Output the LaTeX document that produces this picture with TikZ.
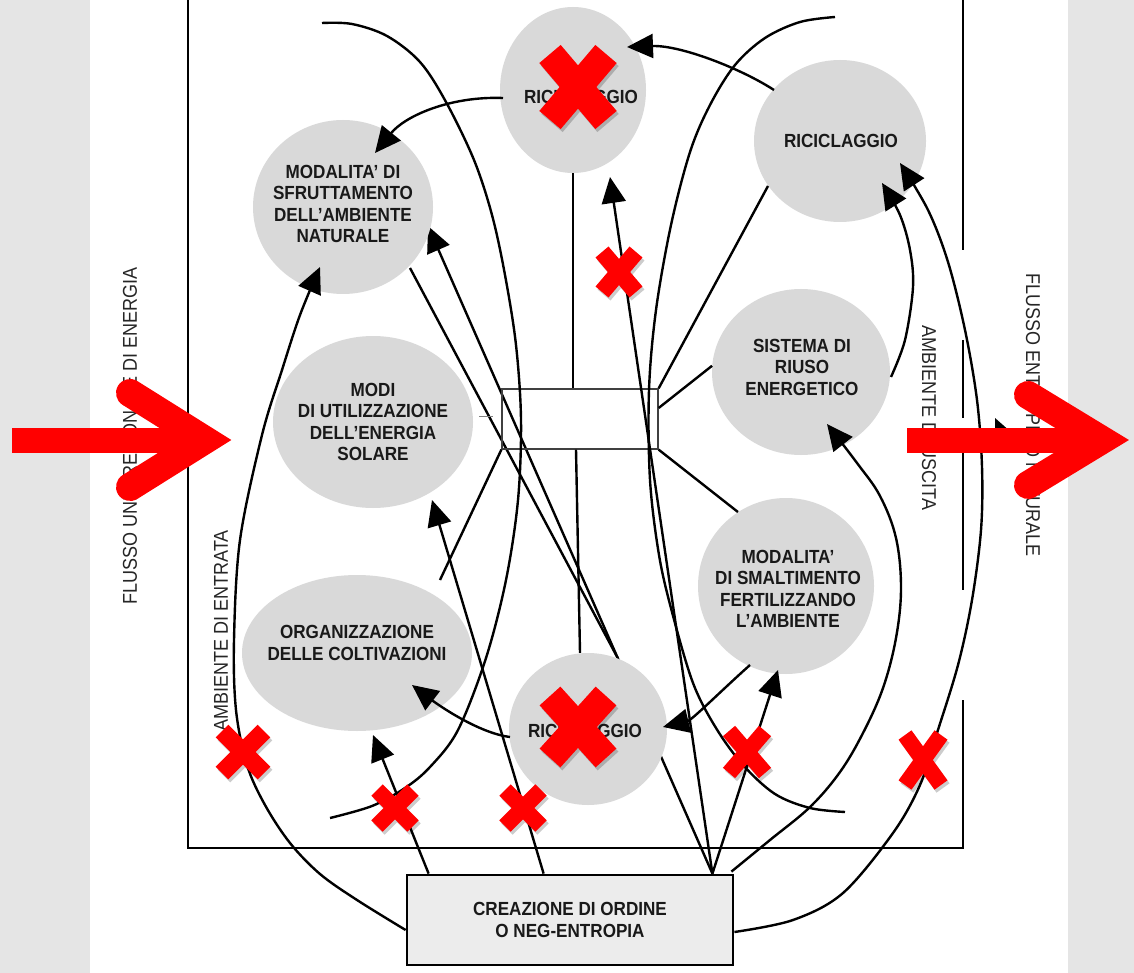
\documentclass[tikz,border=0pt]{standalone}
\usepackage{fontspec}
\setmainfont{Liberation Sans}[FakeStretch=0.9]
\usetikzlibrary{shapes.geometric,arrows.meta,calc}
\pgfdeclarelayer{bg}
\pgfdeclarelayer{lines}
\pgfdeclarelayer{front}
\pgfsetlayers{bg,lines,main,front}
\tikzset{
  blob/.style={ellipse, fill=gray!30, draw=none, inner sep=0pt},
  lbl/.style={font=\fontsize{19}{21.5}\selectfont\bfseries, align=center, text=black!90, inner sep=0pt},
  side/.style={font=\fontsize{20}{22}\selectfont, text=black!85, inner sep=0pt},
  conn/.style={line width=2.4pt, draw=black},
  arr/.style={conn, -{Triangle[length=26pt,width=24pt]}},
  framel/.style={line width=2.8pt, draw=black},
  redline/.style={draw=red, line width=25pt},
  redhead/.style={draw=red, line width=28pt, line cap=round},
  pics/redx/.style args={#1/#2/#3}{code={
    \draw[black, opacity=0.2, line width=#3] (-#1+2,-#2+3) -- (#1+2,#2+3) (-#1+2,#2+3) -- (#1+2,-#2+3);
    \draw[red, line width=#3] (-#1,-#2) -- (#1,#2) (-#1,#2) -- (#1,-#2);
  }}
}
\begin{document}
\begin{tikzpicture}[x=1pt,y=-1pt]
\useasboundingbox (0,0) rectangle (1134,973);
\begin{pgfonlayer}{bg}
  \fill[gray!20] (0,0) rectangle (1134,973);
  \fill[white] (90,0) rectangle (1068,973);
\end{pgfonlayer}

% ---------- nodes ----------
\node[blob, minimum width=180pt, minimum height=174pt] (N1) at (343,207) {};
\node[blob, minimum width=200pt, minimum height=172pt] (N2) at (373,422) {};
\node[blob, minimum width=230pt, minimum height=156pt] (N3) at (357,653) {};
\node[blob, minimum width=146pt, minimum height=166pt] (N4) at (573,90) {};
\node[blob, minimum width=172pt, minimum height=162pt] (N5) at (840,141) {};
\node[blob, minimum width=178pt, minimum height=166pt] (N6) at (801,372) {};
\node[blob, minimum width=176pt, minimum height=176pt] (N7) at (786,586) {};
\node[blob, minimum width=158pt, minimum height=152pt] (N8) at (588,729) {};

\node[lbl] (T1) at (343,204) {MODALITA' DI\\SFRUTTAMENTO\\DELL'AMBIENTE\\NATURALE};
\node[lbl] (T2) at (373,422) {MODI\\DI UTILIZZAZIONE\\DELL'ENERGIA\\SOLARE};
\node[lbl] (T3) at (357,643) {ORGANIZZAZIONE\\DELLE COLTIVAZIONI};
\node[lbl] (T4) at (581,97) {RICICLAGGIO};
\node[lbl] (T5) at (841,141) {RICICLAGGIO};
\node[lbl] (T6) at (802,367) {SISTEMA DI\\RIUSO\\ENERGETICO};
\node[lbl] (T7) at (788,589) {MODALITA'\\DI SMALTIMENTO\\FERTILIZZANDO\\L'AMBIENTE};
\node[lbl] (T8) at (585,731) {RICICLAGGIO};

\node[draw=black, line width=2.8pt, fill=gray!15, minimum width=326pt, minimum height=90pt, inner sep=0pt, lbl] (box) at (570,920) {CREAZIONE DI ORDINE\\O NEG-ENTROPIA};
\node[draw=black!75, line width=1.3pt, minimum width=156pt, minimum height=60pt, inner sep=0pt] (rect) at (580,419) {};

\node[side, rotate=90] (S1) at (130,436) {FLUSSO UNIDIREZIONALE DI ENERGIA};
\node[side, rotate=90] (S2) at (221,631) {AMBIENTE DI ENTRATA};
\node[side, rotate=-90] (S3) at (929,418) {AMBIENTE DI USCITA};
\node[side, rotate=-90] (S4) at (1033,415) {FLUSSO ENTROPICO NATURALE};

% ---------- coordinates ----------
\coordinate (c1a) at (322,23);
\coordinate (c1b) at (330,818);
\coordinate (c2a) at (835,17);
\coordinate (c2b) at (845,812);
\coordinate (bxL) at ($(box.west)+(0,10)$);
\coordinate (bxA) at ($(box.north west)+(23,0)$);
\coordinate (bxB) at ($(box.north west)+(138,0)$);
\coordinate (bxC) at ($(box.north east)+(-22,0)$);
\coordinate (bxD) at ($(box.north east)+(-3,-2)$);
\coordinate (bxR) at ($(box.east)+(0,12)$);

% ---------- frame and hidden lines ----------
\begin{pgfonlayer}{lines}
  \draw[framel] (188,0) -- (188,848) -- (963,848) -- (963,700);
  \draw[framel] (963,0) -- (963,250) (963,340) -- (963,418) (963,453) -- (963,590);
  \fill[black] (995,418) -- (1020,440) -- (995,440) -- cycle;
  \draw[conn] ($(N1.center)+(67,61)$) -- (N8.67);
  \draw[arr] (bxC) -- ($(N1.center)+(85,19)$);
\end{pgfonlayer}

% ---------- connectors ----------
\draw[conn] plot[smooth, tension=0.55] coordinates {(c1a) (352,24) (387,36) (420,62) (446,102) (474,160) (492,215) (505,275) (516,345) (521,420) (518,500) (506,580) (486,658) (458,730) (430,767) (405,788) (372,806) (c1b)};
\draw[conn] plot[smooth, tension=0.55] coordinates {(c2a) (800,22) (765,38) (735,65) (710,105) (690,152) (671,225) (656,310) (649,390) (650,480) (659,555) (672,612) (693,683) (716,728) (743,765) (775,794) (810,808) (c2b)};

\draw[arr] plot[smooth, tension=0.55] coordinates {(bxL) (357,900) (320,874) (290,843) (265,805) (247,765) (236,710) (234,640) (240,540) (262,435) (282,370) (300,315) ($(N1.center)+(-23,60)$)};
\draw[arr] (bxA) -- ($(N3.center)+(16,82)$);
\draw[arr] (bxB) -- ($(N2.center)+(59,78)$);
\draw[arr] (bxC) -- ($(N4.center)+(37,87)$);
\draw[arr] (bxC) -- ($(N7.center)+(-8,84)$);
\draw[arr] plot[smooth, tension=0.6] coordinates {(bxD) (770,840) (810,807) (840,772) (863,733) (883,688) (896,638) (901,588) (896,538) (880,496) (857,463) ($(N6.center)+(26,52)$)};
\draw[arr] plot[smooth, tension=0.55] coordinates {(bxR) (793,920) (843,893) (893,833) (920,785) (937,733) (958,665) (972,600) (981,530) (982,467) (977,400) (965,330) (948,262) (928,210) ($(N5.center)+(60,22)$)};
\draw[arr] plot[smooth, tension=0.55] coordinates {($(N6.center)+(90,5)$) (905,340) (913,287) (910,250) (900,215) ($(N5.center)+(42,42)$)};
\draw[arr] ($(N5.center)+(-66,-51)$) .. controls (740,68) and (680,45) .. ($(N4.center)+(54,-43)$);
\draw[arr] ($(N4.center)+(-70,8)$) .. controls (450,96) and (405,116) .. ($(N1.center)+(32,-54)$);
\draw[arr] ($(N7.center)+(-36,79)$) .. controls (723,689) and (692,720) .. ($(N8.center)+(75,-2)$);
\draw[arr] ($(N8.center)+(-78,8)$) .. controls (478,733) and (437,704) .. ($(N3.center)+(55,32)$);

% lines from the central rectangle
\draw[conn] (N4.south) -- (N4.south |- rect.north);
\draw[conn] ($(rect.south)+(-4,0)$) -- ($(N8.north)+(-8,0)$);
\draw[conn] (rect.north east) -- ($(N5.center)+(-72,45)$);
\draw[conn] ($(rect.east)+(0,-11)$) -- (N6.176);
\draw[conn] (rect.south east) -- (N7.123);
\draw[conn] (rect.south west) -- ($(N3.center)+(83,-73)$);
\draw[gray, line width=0.8pt] ($(rect.west)+(-22,-3)$) -- ($(rect.west)+(-8,-3)$);

% ---------- red overlay ----------
\begin{pgfonlayer}{front}
  \draw[redline] (12,440) -- (200,440);
  \draw[redhead] (130,393) -- (205,440) -- (130,487);
  \draw[redline] (907,440) -- (1080,440);
  \draw[redhead] (1028,395) -- (1102,440) -- (1028,485);
  \pic (X1) at (578,87) {redx=28/33/28pt};
  \pic (X2) at (578,727) {redx=28/31/28pt};
  \pic (X3) at (619,272) {redx=17/20/17pt};
  \pic (X4) at (243,752) {redx=21/21/18pt};
  \pic (X5) at (395,808) {redx=18/18/16pt};
  \pic (X6) at (523,808) {redx=18/18/16pt};
  \pic (X7) at (747,752) {redx=18/21/16pt};
  \pic (X8) at (923,760) {redx=18/25/16pt};
\end{pgfonlayer}
\end{tikzpicture}
\end{document}
